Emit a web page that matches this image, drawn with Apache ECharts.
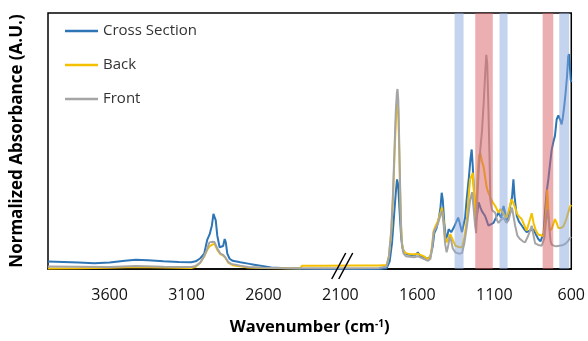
<!DOCTYPE html>
<html><head><meta charset="utf-8">
<script src="https://cdn.jsdelivr.net/npm/echarts@6/dist/echarts.min.js"></script>
<style>html,body{margin:0;padding:0;background:#fff}#c{width:588px;height:341px}</style>
</head><body><div id="c"></div>
<script>
// Wavenumber ticks
const tickValues = [600, 1100, 1600, 2100, 2600, 3100, 3600];
const seriesNames = ['Cross Section', 'Back', 'Front'];

// Cross Section: [wavenumber, normalized absorbance]
const crossWn = [4000,3900,3800,3700,3600,3500,3430,3350,3250,3150,3070,3040,3010,2985,2965,2950,2935,2925,2918,2910,2900,2885,2875,2862,2852,2845,2835,2820,2800,2750,2700,2660,2600,2550,2450,2350,2200,2000,1850,1800,1780,1765,1750,1740,1732,1725,1715,1705,1695,1685,1670,1640,1610,1597,1585,1560,1530,1515,1500,1490,1475,1460,1450,1442,1435,1425,1415,1405,1397,1380,1365,1350,1335,1325,1310,1300,1290,1280,1265,1255,1247,1240,1230,1220,1210,1202,1190,1180,1170,1160,1150,1138,1120,1105,1090,1073,1055,1040,1030,1021,1010,997,985,976,968,954,940,922,905,890,870,846,830,814,800,792,780,771,760,749,740,727,715,706,695,684,680,670,663,655,645,637,628,620,615,610,604,600];
const crossAbs = [2.9,2.7,2.5,2.2,2.5,3.2,3.6,3.4,3.0,2.7,2.6,3.0,4.2,6,11.5,13.5,17,21.5,22,19,13,8.5,7.8,9,11.7,10.5,6,4,3.2,2.6,2.1,1.7,1.1,0.6,0.3,0.1,0,0,0,0.3,3,10,22,30,35,33,22,12,8,6.6,5.8,5.5,5.6,6.5,5.3,4.6,4,5,9,14,16,20,24,29.8,27,18,12,13,15.6,14.4,16,18,20.1,18,14.4,15,20,27,36,43,46.7,40,28,18.2,22,26,24,22.5,23,20.7,19,16.9,17.5,18,20,22,20,24.6,22,18,20,24.6,28,35,28,20.7,18.5,17,15.5,14.4,15,15.5,13.5,11.7,10.8,10.4,14,22,30,35,40,46.7,50,52,58.4,60,60.3,58,56.5,59,64,68.7,75,83,84,80,74,73];

// Back
const backWn = [4000,3800,3600,3430,3250,3070,3040,3010,2985,2965,2950,2935,2918,2900,2880,2862,2849,2830,2800,2700,2600,2450,2360,2350,2200,2000,1850,1800,1785,1770,1758,1748,1740,1733,1729,1724,1718,1712,1706,1700,1690,1675,1650,1620,1600,1590,1560,1530,1515,1505,1494,1480,1465,1450,1440,1430,1420,1410,1400,1386,1375,1353,1330,1310,1295,1278,1265,1257,1240,1230,1220,1210,1200,1192,1180,1170,1160,1150,1140,1126,1110,1094,1073,1060,1050,1035,1021,1005,989,978,965,954,940,922,905,890,875,857,845,830,815,803,781,770,762,756,748,740,725,706,695,684,670,652,635,620,606,600];
const backAbs = [0.2,0.3,0.5,0.8,0.6,0.4,0.9,2.5,5,7.5,8.8,9.5,9.8,7.5,5.8,5.2,4.6,2.5,1.5,0.6,0.4,0.3,0.3,1.3,1.3,1.4,1.4,1.6,5,14,28,45,58,64,65,62,46,30,17,10,7,6.2,5.8,5.8,6,5.5,5,3.8,5,9,15,17,19,22,24,19,12,10.4,12,13.6,12,9.1,8.6,8.4,12,19.5,30,35,37.6,28,20,35,44,45.5,42,40,36,32,30,28,26,24.6,22,23.5,23.5,21,20,23,27.2,26,24,21.8,20.5,19.5,17,15,18,21.8,18,15,13.5,12.9,12.9,18,25,31,22,14.8,16,19.5,18,16,16,16.6,19,22,24.6,25];

// Front
const frontWn = [4000,3800,3600,3430,3250,3070,3040,3010,2983,2965,2951,2935,2918,2900,2880,2862,2849,2830,2810,2750,2700,2600,2500,2350,2200,2000,1850,1800,1785,1770,1758,1748,1740,1733,1729,1724,1718,1712,1706,1700,1690,1675,1650,1620,1600,1590,1560,1530,1515,1505,1494,1480,1465,1450,1440,1430,1420,1410,1400,1390,1380,1370,1353,1330,1310,1295,1278,1265,1257,1245,1235,1225,1218,1210,1200,1192,1180,1168,1158,1152,1146,1138,1130,1126,1115,1105,1094,1082,1073,1060,1040,1030,1021,1008,995,985,976,965,950,933,915,900,880,857,845,835,815,792,775,762,753,745,735,727,710,695,670,652,635,620,606,600];
const frontAbs = [1.0,0.9,0.8,1.2,0.9,0.8,1.2,2.5,5.2,8,10.4,10.6,10.5,8,6,5.5,4.6,2.8,2,1.3,0.8,0.5,0.4,0.3,0.3,0.3,0.4,1.0,5,15,30,48,62,69,70.3,66,50,32,17,9,6,5,4.8,4.6,5,4.6,4,3.2,4,8,14.4,16,18,21,22.7,18,10,6.5,9,12.5,11,8,6.5,6,6.2,10,16.9,23,27,30,24,17,14,28,40,46,54,66,78,83.7,80,62,40,27,23,22.5,22,19,18,19,20,19,18.1,19,22,24,24.6,17,13,11.7,10.8,10.4,13,16.9,13,10,9.4,9.1,12,20,23.3,18,11,9.5,9,8.9,9.2,9.4,10,11,12.3,12.5];

// Highlighted bands [from, to] (wavenumber)
const blueBands = [[1358, 1300], [1066, 1014], [678, 614]];
const redBands = [[1224, 1110], [786, 717]];
const breakAt = 2085;

const colors = ['#2e75b6', '#f5c000', '#a5a5a5'];
const FONT = 'Open Sans';
const zip = (a, b) => a.map((x, i) => [x, b[i]]);

const bandData = [];
blueBands.forEach(b => bandData.push([{xAxis: b[0], itemStyle: {color: 'rgba(137,167,221,0.5)'}}, {xAxis: b[1]}]));
redBands.forEach(b => bandData.push([{xAxis: b[0], itemStyle: {color: 'rgba(215,95,101,0.5)'}}, {xAxis: b[1]}]));

const lineSeries = (name, wn, ab, i) => ({
  name, type: 'line', data: zip(wn, ab), symbol: 'none', showSymbol: false,
  lineStyle: {width: 2, color: colors[i]}, itemStyle: {color: colors[i]}, z: 2 + i, animation: false
});

const chart = echarts.init(document.getElementById('c'), null, {renderer: 'canvas'});
chart.setOption({
  animation: false,
  grid: {left: 48, right: 15, top: 13, bottom: 71, show: true, borderColor: '#000', borderWidth: 1.5, containLabel: false},
  legend: {
    data: seriesNames, orient: 'vertical', left: 60, top: 16, icon: 'rect',
    itemWidth: 33, itemHeight: 2.5, itemGap: 14,
    textStyle: {fontFamily: FONT, fontSize: 15, color: '#333', lineHeight: 20}
  },
  xAxis: {
    type: 'value', inverse: true, min: 600, max: 4000,
    name: 'Wavenumber (cm{sup|-1})', nameLocation: 'middle', nameGap: 50,
    nameTextStyle: {fontFamily: FONT, fontSize: 16.5, fontWeight: 'bold', color: '#000',
      rich: {sup: {fontFamily: FONT, fontSize: 10, fontWeight: 'bold', color: '#000', verticalAlign: 'top', lineHeight: 10}}},
    axisLine: {show: true, lineStyle: {color: '#000', width: 1.5}},
    axisTick: {show: false}, splitLine: {show: false},
    axisLabel: {customValues: tickValues, formatter: v => String(v), fontFamily: FONT, fontSize: 16, color: '#111', margin: 18}
  },
  yAxis: {
    type: 'value', min: 0, max: 100,
    name: 'Normalized Absorbance (A.U.)', nameLocation: 'middle', nameGap: 22,
    nameTextStyle: {fontFamily: FONT, fontSize: 17, fontWeight: 'bold', color: '#000'},
    axisLine: {show: false}, axisTick: {show: false}, axisLabel: {show: false}, splitLine: {show: false}
  },
  series: [
    lineSeries(seriesNames[0], crossWn, crossAbs, 0),
    lineSeries(seriesNames[1], backWn, backAbs, 1),
    lineSeries(seriesNames[2], frontWn, frontAbs, 2),
    {type: 'line', data: [], z: 10, silent: true, markArea: {silent: true, z: 20, data: bandData}}
  ]
});
const p = chart.convertToPixel({gridIndex: 0}, [breakAt, 0]);
const cx = p[0], cy = p[1];
chart.setOption({
  graphic: [
    {type: 'line', z: 100, shape: {x1: cx - 11, y1: cy + 10, x2: cx + 3, y2: cy - 16}, style: {stroke: '#000', lineWidth: 1.5}},
    {type: 'line', z: 100, shape: {x1: cx - 4, y1: cy + 10, x2: cx + 10, y2: cy - 16}, style: {stroke: '#000', lineWidth: 1.5}}
  ]
});
</script></body></html>
